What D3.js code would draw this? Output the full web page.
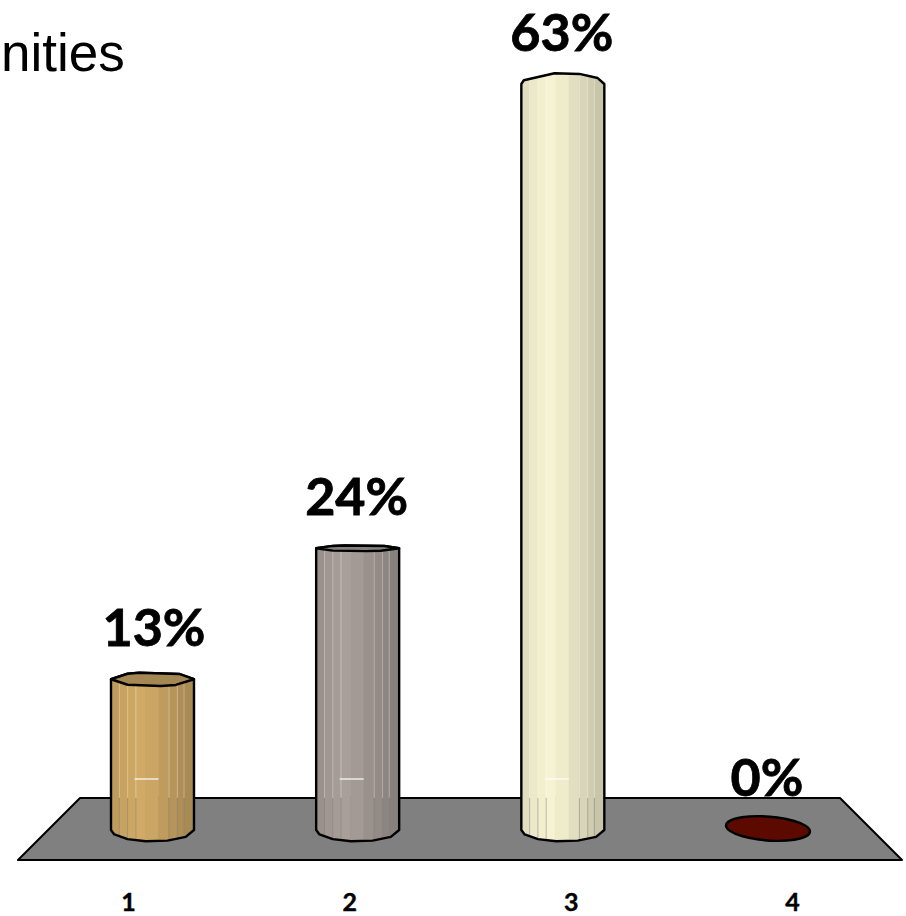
<!DOCTYPE html>
<html>
<head>
<meta charset="utf-8">
<script src="https://cdn.jsdelivr.net/npm/d3@7"></script>
<style>
  html, body { margin: 0; padding: 0; background: #fff; }
  svg { display: block; }
</style>
</head>
<body>
<div id="chart"></div>
<script>
const categories = ["1", "2", "3", "4"]
const values = [13, 24, 63, 0]
const barColors = ["#d0aa66", "#a89e9a", "#f7f3d2", "#5c0a00"]
const topColors = ["#a48753", "#85807b", "#f7f3d2", "#5c0a00"]
const titleText = "nities"

const w = 906, h = 916

const svg = d3.select("#chart").append("svg")
    .attr("width", w)
    .attr("height", h)
    .attr("viewBox", [0, 0, w, h])

// bars and axis labels do not share the same spacing in the original
const x = d3.scalePoint().domain(categories).range([152.5, 768])
const xLabels = d3.scalePoint().domain(categories).range([128, 792])
const y = d3.scaleLinear().domain([0, 63]).range([834, 84])

const barWidth = 83
const floorTop = 798, floorBottom = 860
const baseY = 830
const horizon = 450   // rims flatten out near here, flip above it
const outlineWidth = 2.4

// facet edges across the bar width, and how dark each facet is
const facetEdges = [0, .1, .2, .29, .41, .57, .69, .8, .88, 1]
const facetDark = [.22, .12, .05, 0, .08, .22, .32, .42, .5]
const lightLines = [.1, .2, .3, .7, .8, .88]

// the rims are rough polygons, not true ellipses
const frontStops = [0, .04, .2, .42, .68, .9, 1]
const backStops = [0, .03, .4, .7, .92, 1]
const faceBackStops = [0, .2, .34, .82, 1]
const faceFrontStops = [0, .2, .6, .78, 1]

const rimRy = cy => (cy - horizon) * 0.03

// one half of the rim, left to right. side = 1 front/lower, -1 back/upper
const rimArc = (cx, cy, ry, side, stops) => stops.map(f => [
    cx - barWidth / 2 + f * barWidth,
    cy + side * Math.abs(ry) * Math.sqrt(1 - (2 * f - 1) ** 2)
])

const line = d3.line()

// floor
svg.append("path")
    .attr("d", line([[18, floorBottom], [902, floorBottom], [840, floorTop], [80, floorTop]]) + "Z")
    .attr("fill", "#808080")
    .attr("stroke", "#000")
    .attr("stroke-width", 2)
    .attr("stroke-linejoin", "round")

svg.append("text")
    .attr("x", 1)
    .attr("y", 71)
    .attr("font-family", "Liberation Sans, Arial, sans-serif")
    .attr("font-size", 53)
    .attr("fill", "#000")
    .text(titleText)

const defs = svg.append("defs")

values.forEach((v, i) => {
    const cat = categories[i]
    const cx = x(cat)
    const g = svg.append("g")

    if (v === 0) {
        // empty bar collapses to a flat lump on the floor
        const blob = d3.range(0, 2 * Math.PI, Math.PI / 7).map(a => [
            cx + 42 * Math.cos(a),
            baseY - 1.5 + 12 * Math.sin(a) + 3 * Math.cos(a)
        ])
        g.append("path")
            .attr("d", d3.line().curve(d3.curveCardinalClosed)(blob))
            .attr("fill", topColors[i])
            .attr("stroke", "#000")
            .attr("stroke-width", outlineWidth)
        return
    }

    const top = y(v)
    const ry = rimRy(top)
    const hasFace = ry > 0
    const outline = rimArc(cx, baseY, rimRy(baseY), 1, frontStops)
        .concat(rimArc(cx, top, ry, -1, hasFace ? faceBackStops : backStops).reverse())

    defs.append("clipPath").attr("id", "bar" + i)
        .append("path").attr("d", line(outline) + "Z")

    const body = g.append("g").attr("clip-path", `url(#bar${i})`)

    body.selectAll("rect")
        .data(facetDark)
        .join("rect")
        .attr("x", (d, k) => cx - barWidth / 2 + facetEdges[k] * barWidth)
        .attr("width", (d, k) => (facetEdges[k + 1] - facetEdges[k]) * barWidth + .5)
        .attr("y", top - 20)
        .attr("height", baseY - top + 40)
        .attr("fill", d => d3.interpolateRgb(barColors[i], "#000")(d * .38))

    // thin highlights, they turn grey where the floor is behind
    body.selectAll("line.up")
        .data(lightLines)
        .join("line")
        .attr("class", "up")
        .attr("x1", d => cx - barWidth / 2 + d * barWidth)
        .attr("x2", d => cx - barWidth / 2 + d * barWidth)
        .attr("y1", top - 20)
        .attr("y2", floorTop)
        .attr("stroke", "#fff")
        .attr("stroke-opacity", .3)
    body.selectAll("line.down")
        .data(lightLines)
        .join("line")
        .attr("class", "down")
        .attr("x1", d => cx - barWidth / 2 + d * barWidth)
        .attr("x2", d => cx - barWidth / 2 + d * barWidth)
        .attr("y1", floorTop)
        .attr("y2", baseY + 20)
        .attr("stroke", "#808080")
        .attr("stroke-opacity", .5)

    g.append("line")
        .attr("x1", cx - 18)
        .attr("x2", cx + 6)
        .attr("y1", 779)
        .attr("y2", 779)
        .attr("stroke", "#fff")
        .attr("stroke-width", 1.2)

    g.append("path")
        .attr("d", line(outline) + "Z")
        .attr("fill", "none")
        .attr("stroke", "#000")
        .attr("stroke-width", outlineWidth)
        .attr("stroke-linejoin", "round")

    // top face only shows on bars below the horizon
    if (hasFace) {
        const face = rimArc(cx, top, ry, -1, faceBackStops)
            .concat(rimArc(cx, top, ry, 1, faceFrontStops).reverse())
        g.append("path")
            .attr("d", line(face) + "Z")
            .attr("fill", topColors[i])
            .attr("stroke", "#000")
            .attr("stroke-width", outlineWidth)
            .attr("stroke-linejoin", "round")
    }
})

svg.append("g")
    .selectAll("text")
    .data(values)
    .join("text")
    .attr("x", (d, i) => x(categories[i]) + (i === 0 ? 1.5 : -1))
    .attr("y", d => d === 0 ? 796 : y(d) - 33)
    .attr("text-anchor", "middle")
    .attr("font-family", "Lato, Carlito, sans-serif")
    .attr("font-weight", 700)
    .attr("font-size", 52)
    .attr("fill", "#000")
    .attr("stroke", "#000")
    .attr("stroke-width", .8)
    .text(d => d + "%")

// ticks sit right at the bottom edge of the page
const xAxis = g => g
    .attr("transform", `translate(0,${893})`)
    .call(d3.axisBottom(xLabels).tickSize(0).tickPadding(0))
    .call(g => g.select(".domain").remove())
    .call(g => g.selectAll("text")
        .attr("font-family", "Lato, Carlito, sans-serif")
        .attr("font-weight", 700)
        .attr("font-size", 25)
        .attr("fill", "#000")
        .attr("stroke", "#000")
        .attr("stroke-width", .4))

svg.append("g").call(xAxis)
</script>
</body>
</html>
